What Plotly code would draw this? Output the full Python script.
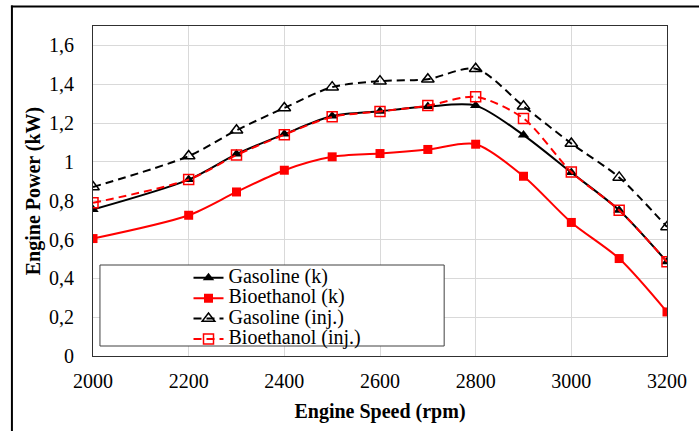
import plotly.graph_objects as go

# Engine speed (rpm)
speed = [2000, 2200, 2300, 2400, 2500, 2600, 2700, 2800, 2900, 3000, 3100, 3200]

# Engine power (kW)
gasoline_k = [0.755, 0.909, 1.04, 1.143, 1.236, 1.261, 1.285, 1.29, 1.138, 0.945, 0.751, 0.485]
bioethanol_k = [0.605, 0.725, 0.845, 0.957, 1.026, 1.043, 1.064, 1.091, 0.926, 0.688, 0.502, 0.227]
gasoline_inj = [0.871, 1.03, 1.163, 1.278, 1.385, 1.416, 1.426, 1.48, 1.287, 1.095, 0.92, 0.665]
bioethanol_inj = [0.789, 0.909, 1.035, 1.14, 1.232, 1.26, 1.29, 1.335, 1.224, 0.948, 0.751, 0.485]

y_ticks = [0, 0.2, 0.4, 0.6, 0.8, 1.0, 1.2, 1.4, 1.6]
y_tick_text = ["0", "0,2", "0,4", "0,6", "0,8", "1", "1,2", "1,4", "1,6"]
x_ticks = [2000, 2200, 2400, 2600, 2800, 3000, 3200]
x_tick_text = ["2000", "2200", "2400", "2600", "2800", "3000", "3200"]

FONT = "Liberation Serif"
FS = 20
DASH = "8px,5px"


def label(txt):
    return f'<span style="font-size:{FS}px;font-family:Liberation Serif">{txt}</span>'


fig = go.Figure()
fig.add_trace(go.Scatter(
    x=speed, y=gasoline_k, name=label("Gasoline (k)"), mode="lines+markers",
    line=dict(color="black", width=2, shape="spline", smoothing=0.8),
    marker=dict(symbol="triangle-up", size=10, color="black"),
))
fig.add_trace(go.Scatter(
    x=speed, y=bioethanol_k, name=label("Bioethanol (k)"), mode="lines+markers",
    line=dict(color="#ff0000", width=2, shape="spline", smoothing=0.8),
    marker=dict(symbol="square", size=9, color="#ff0000"),
))
fig.add_trace(go.Scatter(
    x=speed, y=gasoline_inj, name=label("Gasoline (inj.)"), mode="lines+markers",
    line=dict(color="black", width=2, dash=DASH, shape="spline", smoothing=0.8),
    marker=dict(symbol="triangle-up-open", size=11, color="black",
                line=dict(width=1.5, color="black")),
))
fig.add_trace(go.Scatter(
    x=speed, y=bioethanol_inj, name=label("Bioethanol (inj.)"), mode="lines+markers",
    line=dict(color="#ff0000", width=2, dash=DASH, shape="spline", smoothing=0.8),
    marker=dict(symbol="square-open", size=10, color="#ff0000",
                line=dict(width=1.5, color="#ff0000")),
))

# plot-area pixel geometry helpers for paper coordinates
L, R, T, B = 93, 670, 26, 356
W, H = 699, 431


def px(xp):
    return (xp - L) / (R - L)


def py(yp):
    return (B - yp) / (B - T)


shapes = [
    # legend frame
    dict(type="rect", xref="paper", yref="paper", layer="above",
         x0=px(100), x1=px(446), y0=py(346), y1=py(265),
         line=dict(color="#404040", width=1), fillcolor="white"),
    # outer frame: top and left edges (the others run past the page)
    dict(type="line", xref="paper", yref="paper", layer="above",
         x0=px(10.5), x1=px(720), y0=py(6.5), y1=py(6.5),
         line=dict(color="black", width=2)),
    dict(type="line", xref="paper", yref="paper", layer="above",
         x0=px(11.5), x1=px(11.5), y0=py(5.5), y1=py(460),
         line=dict(color="black", width=2)),
]

fig.update_layout(
    width=W, height=H,
    margin=dict(l=L, r=W - R, t=T, b=H - B),
    paper_bgcolor="white", plot_bgcolor="white",
    font=dict(family=FONT, color="black", size=FS),
    showlegend=True,
    legend=dict(x=px(189), y=py(262.5), xanchor="left", yanchor="top",
                bgcolor="rgba(0,0,0,0)", borderwidth=0,
                font=dict(family=FONT, size=13.4, color="black"),
                tracegroupgap=0),
    shapes=shapes,
)

fig.update_xaxes(
    range=[2000, 3200], tickvals=x_ticks, ticktext=x_tick_text,
    showgrid=True, gridcolor="#d9d9d9", gridwidth=1,
    showline=True, linecolor="#303030", linewidth=1, mirror=True,
    ticks="", ticklabelstandoff=7, zeroline=False,
    tickfont=dict(family=FONT, size=FS, color="black"),
    title=dict(text="<b>Engine Speed (rpm)</b>", font=dict(family=FONT, size=FS, color="black"), standoff=12),
)
fig.update_yaxes(
    range=[0, 1.7], tickvals=y_ticks, ticktext=y_tick_text,
    showgrid=True, gridcolor="#d9d9d9", gridwidth=1,
    showline=True, linecolor="#303030", linewidth=1, mirror=True,
    ticks="", ticklabelstandoff=14, zeroline=False,
    tickfont=dict(family=FONT, size=FS, color="black"),
    title=dict(text="<b>Engine Power (kW)</b>", font=dict(family=FONT, size=FS, color="black"), standoff=3),
)

fig.write_html("out.html")
